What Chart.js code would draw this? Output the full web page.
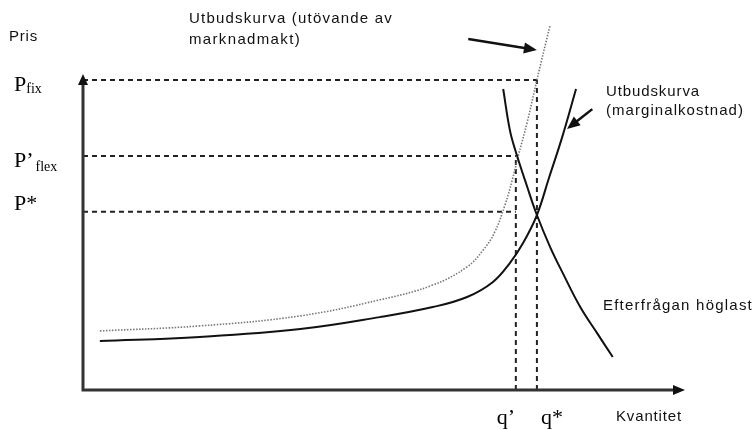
<!DOCTYPE html>
<html>
<head>
<meta charset="utf-8">
<script src="https://cdn.jsdelivr.net/npm/chart.js@4"></script>
<style>
  body { margin: 0; background: #fff; }
  #wrap { width: 754px; height: 430px; }
</style>
</head>
<body>
<div id="wrap"><canvas id="diagram" width="754" height="430"></canvas></div>
<script>
// kurvor (kvantitet 0-100, pris 0-120)
const mkKvant = [2.8, 19.4, 36.1, 49.3, 58.1, 63.8, 68.1, 70.9, 73.1, 75.4, 77.4, 79.6, 81.9];
const mkPris  = [15.6, 16.9, 19.4, 23.2, 26.4, 29.6, 34.4, 40.4, 46.8, 55.7, 67.5, 80.5, 95.8];

const maktKvant = [2.8, 19.4, 36.1, 49.3, 58.1, 63.8, 66.5, 68.4, 70.1, 71.3, 72.3, 73.8, 75.4, 77.6];
const maktPris  = [18.8, 20.4, 23.6, 28.7, 33.4, 39.2, 44.6, 50.3, 58.9, 66.8, 74.5, 85.3, 98.7, 116.2];

const efterKvant = [69.8, 70.9, 71.8, 73.8, 75.4, 77.6, 79.7, 82.6, 85.4, 88.0];
const efterPris  = [95.8, 82.8, 76.4, 64.6, 55.7, 45.5, 37.2, 26.4, 18.1, 10.5];

// nivåer på axlarna
const prisEtiketter = ['P|fix', 'P’|flex', 'P*'];
const prisNivaer    = [98.7, 74.5, 56.7];
const prisTillKvant = [1, 0, 0];   // index i kvantNivaer där streckad linje slutar
const kvantEtiketter = ['q’', 'q*'];
const kvantNivaer    = [71.9, 75.4];
const kvantTillPris  = [1, 0];     // index i prisNivaer

// pilar mot kurvorna
const pilFranX = [64.0, 84.6];
const pilFranY = [111.7, 89.4];
const pilTillX = [75.4, 80.4];
const pilTillY = [108.2, 83.1];

const pts = (xs, ys) => xs.map((v, i) => ({ x: v, y: ys[i] }));

const streckade = [];
prisNivaer.forEach((p, i) => {
  streckade.push([{ x: 0, y: p }, { x: kvantNivaer[prisTillKvant[i]], y: p }]);
});
kvantNivaer.forEach((q, i) => {
  streckade.push([{ x: q, y: 0 }, { x: q, y: prisNivaer[kvantTillPris[i]] }]);
});

const datasets = [
  { data: pts(mkKvant, mkPris), borderColor: '#111', borderWidth: 2, tension: 0.4 },
  { data: pts(efterKvant, efterPris), borderColor: '#111', borderWidth: 2, tension: 0.4 },
  { data: pts(maktKvant, maktPris), borderColor: '#777', borderWidth: 1.6, borderDash: [1.5, 1.5], tension: 0.4 },
  ...streckade.map(d => ({ data: d, borderColor: '#222', borderWidth: 2, borderDash: [5, 4], tension: 0 }))
];

function spets(ctx, fx, fy, tx, ty, len, halv) {
  const a = Math.atan2(ty - fy, tx - fx);
  ctx.beginPath();
  ctx.moveTo(tx, ty);
  ctx.lineTo(tx - len * Math.cos(a) + halv * Math.sin(a), ty - len * Math.sin(a) - halv * Math.cos(a));
  ctx.lineTo(tx - len * Math.cos(a) - halv * Math.sin(a), ty - len * Math.sin(a) + halv * Math.cos(a));
  ctx.closePath();
  ctx.fill();
}

// texten sprids ut till ungefär samma bredd som i originalet
function text(ctx, s, x, y, bredd) {
  const w = ctx.measureText(s).width;
  ctx.letterSpacing = Math.max(0, (bredd - w) / s.length) + 'px';
  ctx.fillText(s, x, y);
  ctx.letterSpacing = '0px';
}

const ritning = {
  id: 'ritning',
  afterDatasetsDraw(chart) {
    const { ctx, scales: { x, y } } = chart;
    const x0 = x.getPixelForValue(0), y0 = y.getPixelForValue(0);
    const xEnd = x.getPixelForValue(100), yEnd = y.getPixelForValue(100.6);
    ctx.save();

    // axlar
    ctx.strokeStyle = '#333';
    ctx.fillStyle = '#111';
    ctx.lineWidth = 3;
    ctx.beginPath();
    ctx.moveTo(x0, y0 + 1.5);
    ctx.lineTo(x0, yEnd + 8);
    ctx.moveTo(x0 - 1.5, y0);
    ctx.lineTo(xEnd - 8, y0);
    ctx.stroke();
    spets(ctx, x0, y0, x0, yEnd, 11, 5);
    spets(ctx, x0, y0, xEnd, y0, 12, 5);

    // pilar
    ctx.lineWidth = 2.5;
    ctx.strokeStyle = '#111';
    pilFranX.forEach((fx, i) => {
      const a = [x.getPixelForValue(fx), y.getPixelForValue(pilFranY[i])];
      const b = [x.getPixelForValue(pilTillX[i]), y.getPixelForValue(pilTillY[i])];
      const ang = Math.atan2(b[1] - a[1], b[0] - a[0]);
      ctx.beginPath();
      ctx.moveTo(a[0], a[1]);
      ctx.lineTo(b[0] - 8 * Math.cos(ang), b[1] - 8 * Math.sin(ang));
      ctx.stroke();
      spets(ctx, a[0], a[1], b[0], b[1], 13, 5.5);
    });

    // prisnivåer
    const offs = [11, 11, -2];
    ctx.fillStyle = '#000';
    ctx.textBaseline = 'alphabetic';
    prisEtiketter.forEach((lbl, i) => {
      const [huvud, sub] = lbl.split('|');
      const by = y.getPixelForValue(prisNivaer[i]) + offs[i];
      ctx.font = '22px "Liberation Serif"';
      ctx.fillText(huvud, 14, by);
      const w = ctx.measureText(huvud).width;
      if (sub) {
        ctx.font = '14px "Liberation Serif"';
        ctx.fillText(sub, 14 + w + (huvud.length > 1 ? 2 : 0), by + (huvud.length > 1 ? 4 : 2));
      }
    });

    // kvantiteter
    const xoffs = [-19, 4];
    ctx.font = '22px "Liberation Serif"';
    kvantEtiketter.forEach((lbl, i) => {
      ctx.fillText(lbl, x.getPixelForValue(kvantNivaer[i]) + xoffs[i], 424);
    });

    // texter
    ctx.font = '15px "Liberation Sans"';
    ctx.fillStyle = '#111';
    text(ctx, 'Pris', 9, 41, 29);
    text(ctx, 'Utbudskurva (utövande av', 189, 23, 204);
    text(ctx, 'marknadmakt)', 189, 44, 112);
    text(ctx, 'Utbudskurva', 606, 96, 94);
    text(ctx, '(marginalkostnad)', 606, 115, 138);
    text(ctx, 'Efterfrågan höglast', 603, 310, 150);
    text(ctx, 'Kvantitet', 616, 421, 66);

    ctx.restore();
  }
};

new Chart(document.getElementById('diagram').getContext('2d'), {
  type: 'scatter',
  data: { datasets: datasets.map(d => ({ ...d, showLine: true, pointRadius: 0, fill: false, clip: false })) },
  options: {
    responsive: false,
    animation: false,
    events: [],
    layout: { padding: { left: 83, right: 69, top: 13, bottom: 40 } },
    scales: {
      x: { type: 'linear', min: 0, max: 100, display: false },
      y: { type: 'linear', min: 0, max: 120, display: false }
    },
    plugins: { legend: { display: false }, tooltip: { enabled: false } }
  },
  plugins: [ritning]
});
</script>
</body>
</html>
